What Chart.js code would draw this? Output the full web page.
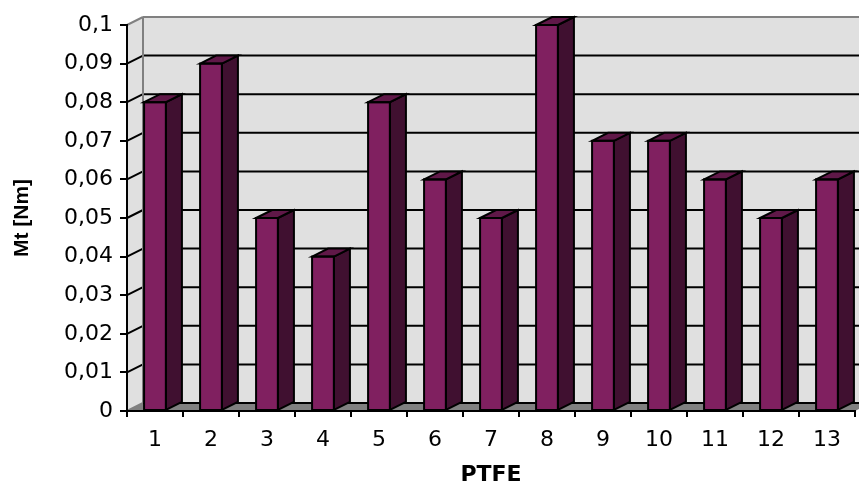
<!DOCTYPE html>
<html>
<head>
<meta charset="utf-8">
<script src="https://cdn.jsdelivr.net/npm/chart.js@4/dist/chart.umd.min.js"></script>
<style>
  html, body { margin: 0; padding: 0; background: #ffffff; }
  #wrap { width: 859px; height: 484px; position: relative; }
</style>
</head>
<body>
<div id="wrap"><canvas id="chart"></canvas></div>
<script>
// Torque per PTFE sample
const categories = ['1', '2', '3', '4', '5', '6', '7', '8', '9', '10', '11', '12', '13'];
const torque = [0.08, 0.09, 0.05, 0.04, 0.08, 0.06, 0.05, 0.1, 0.07, 0.07, 0.06, 0.05, 0.06];
const yTickLabels = ['0', '0,01', '0,02', '0,03', '0,04', '0,05', '0,06', '0,07', '0,08', '0,09', '0,1'];

// Oblique depth used for walls, floor and column sides
const DEPTH_X = 16;
const DEPTH_Y = -8;

const FRONT = '#802060';
const SIDE = '#401030';
const TOP = '#601848';

const obliqueFrame = {
  id: 'obliqueFrame',
  beforeDraw(chart) {
    const { ctx, chartArea, scales } = chart;
    const ys = scales.y;
    const x0 = chartArea.left, x1 = chartArea.right;
    const yTop = ys.getPixelForValue(ys.max);
    const yBot = ys.getPixelForValue(0);
    ctx.save();
    // side wall
    ctx.fillStyle = '#e0e0e0';
    ctx.beginPath();
    ctx.moveTo(x0, yBot); ctx.lineTo(x0, yTop);
    ctx.lineTo(x0 + DEPTH_X, yTop + DEPTH_Y); ctx.lineTo(x0 + DEPTH_X, yBot + DEPTH_Y);
    ctx.closePath(); ctx.fill();
    // back wall
    ctx.fillRect(x0 + DEPTH_X, yTop + DEPTH_Y, (x1 - x0), yBot - yTop);
    // floor
    ctx.fillStyle = '#808080';
    ctx.beginPath();
    ctx.moveTo(x0, yBot); ctx.lineTo(x1, yBot);
    ctx.lineTo(x1 + DEPTH_X, yBot + DEPTH_Y); ctx.lineTo(x0 + DEPTH_X, yBot + DEPTH_Y);
    ctx.closePath(); ctx.fill();
    // gridlines across side and back wall
    ctx.lineWidth = 2;
    ys.ticks.forEach(t => {
      const py = ys.getPixelForValue(t.value);
      const isTop = Math.abs(t.value - ys.max) < 1e-9;
      const isZero = Math.abs(t.value) < 1e-9;
      ctx.strokeStyle = (isTop || isZero) ? '#808080' : '#000000';
      ctx.beginPath();
      ctx.moveTo(x0, py); ctx.lineTo(x0 + DEPTH_X, py + DEPTH_Y);
      ctx.stroke();
      ctx.strokeStyle = isTop ? '#808080' : '#000000';
      ctx.beginPath();
      ctx.moveTo(x0 + DEPTH_X, py + DEPTH_Y); ctx.lineTo(x1 + DEPTH_X, py + DEPTH_Y);
      ctx.stroke();
    });
    // back wall left edge
    ctx.strokeStyle = '#808080';
    ctx.beginPath();
    ctx.moveTo(x0 + DEPTH_X, yTop + DEPTH_Y); ctx.lineTo(x0 + DEPTH_X, yBot + DEPTH_Y);
    ctx.stroke();
    ctx.restore();
  },
  afterDatasetsDraw(chart) {
    const { ctx } = chart;
    const meta = chart.getDatasetMeta(0);
    ctx.save();
    ctx.lineWidth = 2;
    ctx.strokeStyle = '#000000';
    ctx.lineJoin = 'miter';
    meta.data.forEach(bar => {
      const { x, y, base, width } = bar.getProps(['x', 'y', 'base', 'width'], true);
      const l = x - width / 2, r = x + width / 2;
      // right side face
      ctx.fillStyle = SIDE;
      ctx.beginPath();
      ctx.moveTo(r, y); ctx.lineTo(r + DEPTH_X, y + DEPTH_Y);
      ctx.lineTo(r + DEPTH_X, base + DEPTH_Y); ctx.lineTo(r, base);
      ctx.closePath(); ctx.fill(); ctx.stroke();
      // top face
      ctx.fillStyle = TOP;
      ctx.beginPath();
      ctx.moveTo(l, y); ctx.lineTo(l + DEPTH_X, y + DEPTH_Y);
      ctx.lineTo(r + DEPTH_X, y + DEPTH_Y); ctx.lineTo(r, y);
      ctx.closePath(); ctx.fill(); ctx.stroke();
      // front face outline
      ctx.strokeRect(l, y, width, base - y);
    });
    ctx.restore();
  }
};

new Chart(document.getElementById('chart'), {
  type: 'bar',
  data: {
    labels: categories,
    datasets: [{
      data: torque,
      backgroundColor: FRONT,
      borderWidth: 0,
      barPercentage: 0.39,
      categoryPercentage: 1
    }]
  },
  options: {
    responsive: true,
    maintainAspectRatio: false,
    animation: false,
    events: [],
    layout: { padding: { top: 25, right: 4, left: 0, bottom: 0 } },
    plugins: { legend: { display: false }, tooltip: { enabled: false } },
    scales: {
      x: {
        grid: { display: true, drawOnChartArea: false, drawTicks: true, tickLength: 6, lineWidth: 2, color: '#000000', offset: true },
        border: { display: true, color: '#000000', width: 2 },
        ticks: { color: '#000000', padding: 10, maxRotation: 0, font: { family: 'DejaVu Sans', size: 22 } },
        title: {
          display: true, text: 'PTFE', color: '#000000',
          font: { family: 'DejaVu Sans', size: 22, weight: 'bold', lineHeight: 1 },
          padding: { top: 0, bottom: -2 }
        },
        afterFit(scale) { scale.height = 73; }
      },
      y: {
        min: 0, max: 0.1,
        grid: { display: true, drawOnChartArea: false, drawTicks: true, tickLength: 7, lineWidth: 2, color: '#000000' },
        border: { display: true, color: '#000000', width: 2 },
        ticks: {
          stepSize: 0.01, color: '#000000', padding: 7,
          font: { family: 'DejaVu Sans', size: 22 },
          callback: (value, index) => yTickLabels[index]
        },
        title: {
          display: true, text: 'Mt [Nm]', color: '#000000',
          font: { family: 'Liberation Sans', size: 21, weight: 'bold', lineHeight: 1.2 },
          padding: { top: 10, bottom: 0 }
        },
        afterFit(scale) { scale.width = 127; }
      }
    }
  },
  plugins: [obliqueFrame]
});
</script>
</body>
</html>
